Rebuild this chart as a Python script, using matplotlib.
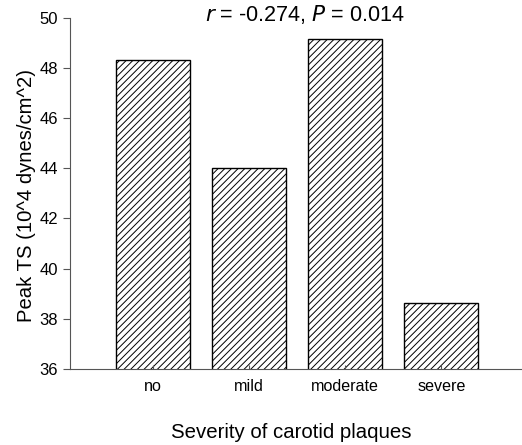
import matplotlib
matplotlib.use("Agg")
import matplotlib.pyplot as plt

categories = ["no", "mild", "moderate", "severe"]
peak_ts = [48.3, 44.03, 49.17, 38.63]

plt.rcParams['font.family'] = ['Liberation Sans', 'DejaVu Sans']
plt.rcParams['hatch.color'] = '#555555'
plt.rcParams['hatch.linewidth'] = 0.7

fig = plt.figure(figsize=(5.22, 4.45), dpi=100)
ax = fig.add_axes([0.134, 0.171, 0.866, 0.789])

x = range(len(categories))
ax.bar(x, peak_ts, width=0.77, bottom=0, color='white', edgecolor='black',
       linewidth=1.0, hatch='/////')

ax.set_ylim(36, 50)
ax.set_xlim(-0.865, 3.84)
ax.set_yticks([36, 38, 40, 42, 44, 46, 48, 50])
ax.set_xticks(list(x))
ax.set_xticklabels(categories)

ax.spines['top'].set_visible(False)
ax.spines['right'].set_visible(False)
ax.spines['left'].set_color('#555555')
ax.spines['bottom'].set_color('#555555')
ax.tick_params(axis='y', direction='out', length=5, color='#555555', labelsize=12)
ax.tick_params(axis='x', direction='in', length=3, color='#555555', labelsize=11.6, pad=7)

fig.text(27 / 522, 1 - 195 / 445, "Peak TS (10^4 dynes/cm^2)", fontsize=14.6,
         rotation=90, ha='center', va='center')
fig.text(291 / 522, 1 - 433 / 445, "Severity of carotid plaques", fontsize=14.7,
         ha='center', va='center')
fig.text(305 / 522, 1 - 15 / 445, "$\\it{r}$ = -0.274, $\\it{P}$ = 0.014",
         fontsize=15.6, ha='center', va='center')

plt.savefig("out.png", dpi=100)
